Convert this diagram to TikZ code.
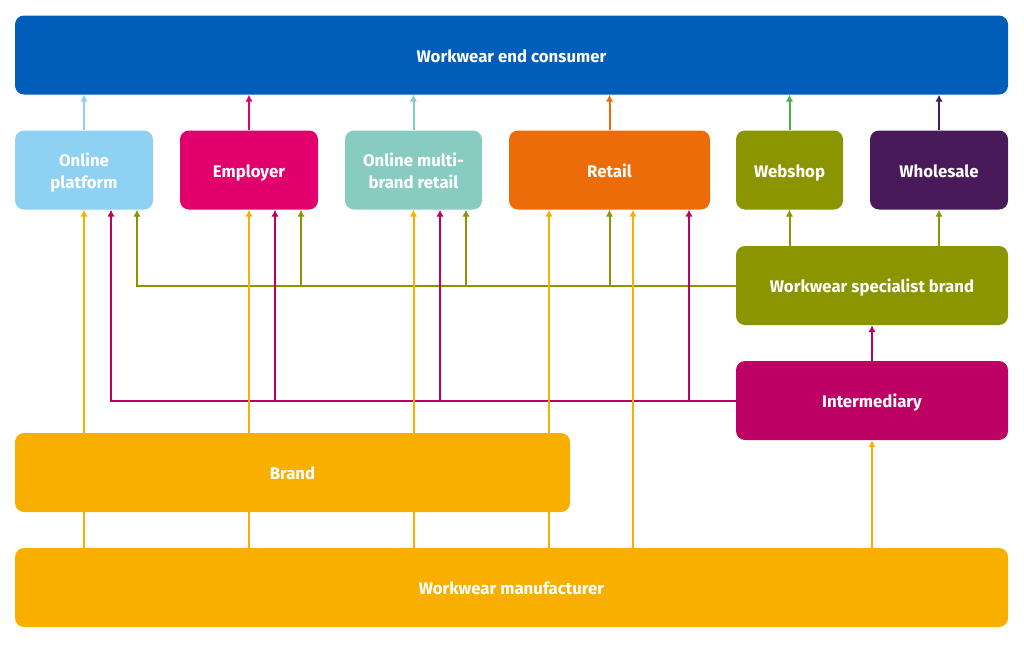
\documentclass[tikz,border=0pt]{standalone}
\usepackage{fontspec}
\setmainfont{Fira Sans}
\usetikzlibrary{arrows.meta}

\definecolor{consumerblue}{HTML}{005DB9}
\definecolor{platformblue}{HTML}{8FD1F3}
\definecolor{employerred}{HTML}{E2006D}
\definecolor{multiteal}{HTML}{88CCC1}
\definecolor{retailorange}{HTML}{EC6C0A}
\definecolor{specolive}{HTML}{8B9500}
\definecolor{wholepurple}{HTML}{491A59}
\definecolor{intermred}{HTML}{BD0063}
\definecolor{makeryellow}{HTML}{F8AF00}
\definecolor{shopgreen}{HTML}{4CAF47}

\tikzset{
  box/.style={rounded corners=9pt, minimum height=79pt, inner sep=0pt,
    text height=14.5pt, text depth=0pt,
    text=white, align=center, font=\bfseries\fontsize{16.8}{22}\selectfont},
  twolines/.style={text height=36pt},
  flow/.style={line width=2pt, -{Latex[length=7pt,width=7.5pt]}},
  link/.style={line width=2pt},
}

\begin{document}
\begin{tikzpicture}[x=1pt,y=-1pt]
\useasboundingbox (0,0) rectangle (1024,645);

\node[box, fill=consumerblue, minimum width=993pt] (consumer) at (511.5,55) {Workwear end consumer};

\node[box, twolines, fill=platformblue, minimum width=138pt] (platform) at (84,170) {Online\\platform};
\node[box, fill=employerred, minimum width=138pt] (employer) at (249,170) {Employer};
\node[box, twolines, fill=multiteal, minimum width=137pt] (multi) at (413.5,170) {Online multi-\\brand retail};
\node[box, fill=retailorange, minimum width=201pt] (retail) at (609.5,170) {Retail};
\node[box, fill=specolive, minimum width=107pt] (webshop) at (789.5,170) {Webshop};
\node[box, fill=wholepurple, minimum width=138pt] (wholesale) at (939,170) {Wholesale};

\node[box, fill=specolive, minimum width=272pt] (specialist) at (872,285.5) {Workwear specialist brand};
\node[box, fill=intermred, minimum width=272pt] (intermediary) at (872,400.5) {Intermediary};
\node[box, fill=makeryellow, minimum width=555pt] (brand) at (292.5,472.5) {Brand};
\node[box, fill=makeryellow, minimum width=993pt] (maker) at (511.5,587.5) {Workwear manufacturer};

\coordinate (platform2) at ([xshift=27pt]platform.south);
\coordinate (platform3) at ([xshift=53pt]platform.south);
\coordinate (employer2) at ([xshift=26pt]employer.south);
\coordinate (employer3) at ([xshift=52pt]employer.south);
\coordinate (multi2) at ([xshift=26.5pt]multi.south);
\coordinate (multi3) at ([xshift=52.5pt]multi.south);
\coordinate (retail1) at ([xshift=-60.5pt]retail.south);
\coordinate (retail3) at ([xshift=23.5pt]retail.south);
\coordinate (retail4) at ([xshift=79.5pt]retail.south);
\coordinate (webshop1) at (webshop.north |- specialist.north);
\coordinate (wholesale1) at (wholesale.north |- specialist.north);

% to the end consumer
\path[draw,flow,platformblue] (platform.north) -- (platform.north |- consumer.south);
\path[draw,flow,employerred] (employer.north) -- (employer.north |- consumer.south);
\path[draw,flow,multiteal] (multi.north) -- (multi.north |- consumer.south);
\path[draw,flow,retailorange] (retail.north) -- (retail.north |- consumer.south);
\path[draw,flow,shopgreen] (webshop.north) -- (webshop.north |- consumer.south);
\path[draw,flow,wholepurple] (wholesale.north) -- (wholesale.north |- consumer.south);

% specialist brand
\path[draw,flow,specolive] (specialist.west) -| (platform3);
\path[draw,flow,specolive] (employer3 |- specialist.west) -- (employer3);
\path[draw,flow,specolive] (multi3 |- specialist.west) -- (multi3);
\path[draw,flow,specolive] (retail.south |- specialist.west) -- (retail.south);
\path[draw,flow,specolive] (webshop1) -- (webshop.south);
\path[draw,flow,specolive] (wholesale1) -- (wholesale.south);

% intermediary
\path[draw,flow,intermred] (intermediary.west) -| (platform2);
\path[draw,flow,intermred] (employer2 |- intermediary.west) -- (employer2);
\path[draw,flow,intermred] (multi2 |- intermediary.west) -- (multi2);
\path[draw,flow,intermred] (retail4 |- intermediary.west) -- (retail4);
\path[draw,flow,intermred] (intermediary.north) -- (specialist.south);

% manufacturer and brand
\path[draw,link,makeryellow] (platform.south |- maker.north) -- (platform.south |- brand.south);
\path[draw,link,makeryellow] (employer.south |- maker.north) -- (employer.south |- brand.south);
\path[draw,link,makeryellow] (multi.south |- maker.north) -- (multi.south |- brand.south);
\path[draw,link,makeryellow] (retail1 |- maker.north) -- (retail1 |- brand.south);
\path[draw,flow,makeryellow] (platform.south |- brand.north) -- (platform.south);
\path[draw,flow,makeryellow] (employer.south |- brand.north) -- (employer.south);
\path[draw,flow,makeryellow] (multi.south |- brand.north) -- (multi.south);
\path[draw,flow,makeryellow] (retail1 |- brand.north) -- (retail1);
\path[draw,flow,makeryellow] (retail3 |- maker.north) -- (retail3);
\path[draw,flow,makeryellow] (intermediary.south |- maker.north) -- (intermediary.south);

\end{tikzpicture}
\end{document}
